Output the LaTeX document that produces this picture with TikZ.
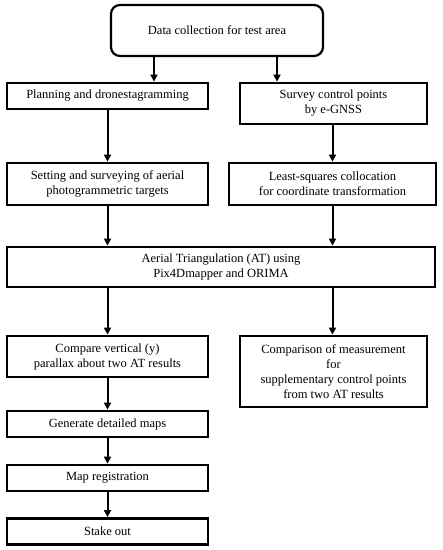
\documentclass[tikz,border=0pt]{standalone}
\usepackage{fontspec}
\setmainfont{Liberation Serif}
\usetikzlibrary{arrows.meta}
\begin{document}
\begin{tikzpicture}[x=1pt, y=-1pt, >={Triangle[length=7pt,width=7pt]}]
      \tikzset{
  stepbox/.style={
    rectangle,
    draw,
    line width=2.8pt,
    align=center,
    inner sep=1pt,
    font=\fontsize{12.5}{15}\selectfont
  },
  startbox/.style={
    stepbox,
    rounded corners=9pt,
    line width=2.2pt
  },
  flow/.style={
    ->,
    line width=2pt
  }
}
\useasboundingbox (0,0) rectangle (443,550);

\node [startbox, minimum width=212pt, minimum height=51pt] (collect) at (217,30.5) {Data collection for test area};

% left column
\node [stepbox, minimum width=201pt, minimum height=26pt] (plan) at (107.5,96) {Planning and dronestagramming};
\node [stepbox, minimum width=201pt, minimum height=42pt] (targets) at (107.5,184) {Setting and surveying of aerial\\photogrammetric  targets};

% right column
\node [stepbox, minimum width=187pt, minimum height=41pt] (survey) at (333.5,103.5) {Survey control points\\by  e-GNSS};
\node [stepbox, minimum width=207pt, minimum height=42pt] (lsc) at (332.5,184) {Least-squares collocation\\for coordinate transformation};

\node [stepbox, minimum width=428pt, minimum height=40pt] (at) at (221,267) {Aerial Triangulation (AT)  using\\Pix4Dmapper and ORIMA};

\node [stepbox, minimum width=201pt, minimum height=41pt] (parallax) at (107.5,356.5) {Compare vertical  (y)\\parallax about two AT results};
\node [stepbox, minimum width=187pt, minimum height=71pt] (supp) at (333.5,371.5) {Comparison of  measurement\\for\\supplementary control points\\from two AT results};

\foreach \name/\y/\txt in {maps/424/Generate detailed maps, reg/478/Map registration, stake/531.5/Stake out}
  \node [stepbox, minimum width=201pt, minimum height=26pt] (\name) at (107.5,\y) {\txt};

\draw [flow] (collect.south -| 154,0) -- (plan.north -| 154,0);
\draw [flow] (collect.south -| 277,0) -- (survey.north -| 277,0);
\draw [flow] (plan) -- (targets);
\draw [flow] (survey.south -| lsc) -- (lsc);
\draw [flow] (targets) -- (at.north -| targets);
\draw [flow] (lsc) -- (at.north -| lsc);
\draw [flow] (at.south -| parallax) -- (parallax);
\draw [flow] (at.south -| lsc) -- (supp.north -| lsc);

\foreach \a/\b in {parallax/maps, maps/reg, reg/stake}
  \draw [flow] (\a) -- (\b);
      \end{tikzpicture}
\end{document}
